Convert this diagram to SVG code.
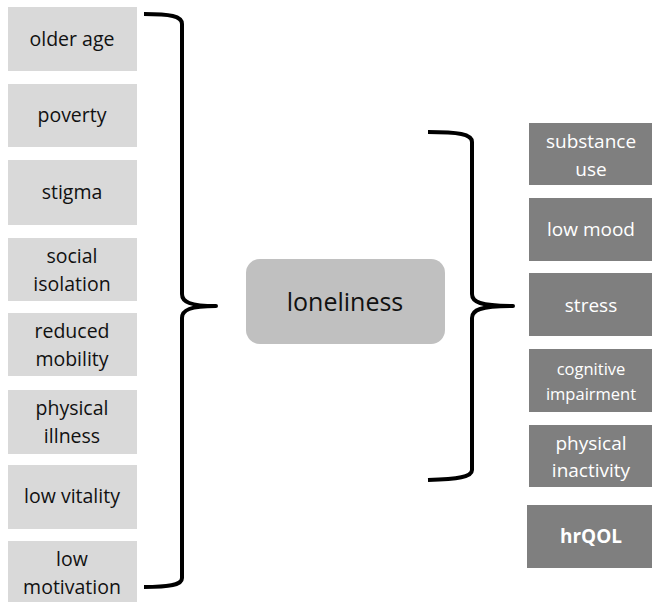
<svg xmlns="http://www.w3.org/2000/svg" width="652" height="602" viewBox="0 0 652 602">
<style>
.l{fill:#d9d9d9}
.r{fill:#7f7f7f}
text{font-family:"Open Sans","Noto Sans",sans-serif;text-anchor:middle}
.lt{font-size:19.5px;fill:#111}
.rt{font-size:19px;fill:#fff}
.sm{font-size:16.5px}
.br{fill:none;stroke:#000;stroke-width:4;stroke-linejoin:round}
</style>
<rect width="652" height="602" fill="#fff"/>
<g id="older-age"><rect class="l" x="8" y="7" width="129" height="64"/><text class="lt" x="72" y="46">older age</text></g>
<g id="poverty"><rect class="l" x="8" y="84" width="129" height="63"/><text class="lt" x="72" y="122">poverty</text></g>
<g id="stigma"><rect class="l" x="8" y="160" width="129" height="65"/><text class="lt" x="72" y="199">stigma</text></g>
<g id="social-isolation"><rect class="l" x="8" y="238" width="129" height="63"/><text class="lt" x="72" y="263">social</text><text class="lt" x="72" y="291">isolation</text></g>
<g id="reduced-mobility"><rect class="l" x="8" y="313" width="129" height="63"/><text class="lt" x="72" y="338">reduced</text><text class="lt" x="72" y="366">mobility</text></g>
<g id="physical-illness"><rect class="l" x="8" y="390" width="129" height="64"/><text class="lt" x="72" y="415">physical</text><text class="lt" x="72" y="443">illness</text></g>
<g id="low-vitality"><rect class="l" x="8" y="465" width="129" height="64"/><text class="lt" x="72" y="503">low vitality</text></g>
<g id="low-motivation"><rect class="l" x="8" y="541" width="129" height="62"/><text class="lt" x="72" y="566">low</text><text class="lt" x="72" y="594">motivation</text></g>
<g id="loneliness"><rect x="246" y="259" width="199" height="85" rx="14" fill="#c0c0c0"/><text x="345" y="311" font-size="25" fill="#111">loneliness</text></g>
<g id="substance-use"><rect class="r" x="529" y="123" width="123" height="62"/><text class="rt" x="591" y="148">substance</text><text class="rt" x="591" y="176">use</text></g>
<g id="low-mood"><rect class="r" x="529" y="198" width="123" height="63"/><text class="rt" x="591" y="236">low mood</text></g>
<g id="stress"><rect class="r" x="529" y="273" width="123" height="63"/><text class="rt" x="591" y="312">stress</text></g>
<g id="cognitive-impairment"><rect class="r" x="529" y="349" width="123" height="63"/><text class="rt sm" x="591" y="375">cognitive</text><text class="rt sm" x="591" y="400">impairment</text></g>
<g id="physical-inactivity"><rect class="r" x="529" y="425" width="123" height="62"/><text class="rt" x="591" y="450">physical</text><text class="rt" x="591" y="477">inactivity</text></g>
<g id="hrQOL"><rect class="r" x="527" y="505" width="125" height="63"/><text class="rt" x="591" y="543" font-weight="bold">hrQOL</text></g>
<g id="connectors">
<path class="br" d="M144 14 C170 14 182 16 182 24 L182 294 C182 302 190 306 216 306 C190 306 182 310 182 318 L182 578 C182 585 170 587 144 587"/>
<path class="br" d="M428 132 C458 132 472 134 472 142 L472 294 C472 302 480 306 513 306 C480 306 472 310 472 318 L472 470 C472 477 458 479 428 480"/>
</g>
</svg>
